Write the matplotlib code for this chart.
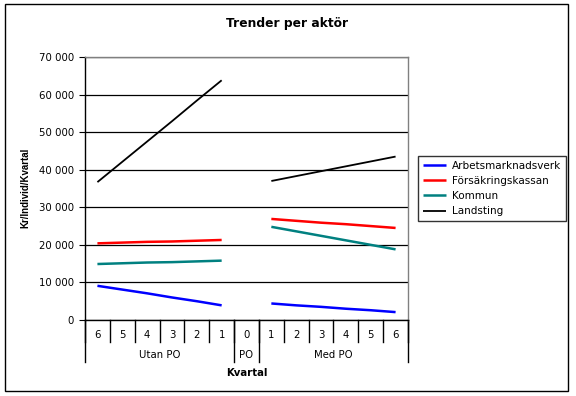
import numpy as np
import matplotlib.pyplot as plt
import matplotlib.transforms as mtransforms
from matplotlib.patches import Rectangle
from matplotlib.ticker import FuncFormatter

plt.rcParams['font.family'] = ['DejaVu Sans']

# Data: quarters before PO (6..1), the PO quarter (0), quarters after PO (1..6)
quarter_labels = ['6', '5', '4', '3', '2', '1', '0', '1', '2', '3', '4', '5', '6']
groups = [('Utan PO', 6), ('PO', 1), ('Med PO', 6)]

series_names = ['Arbetsmarknadsverk', 'Försäkringskassan', 'Kommun', 'Landsting']
series_colors = ['#0000FF', '#FF0000', '#008080', '#000000']

arbetsmarknadsverk_utan = [9100, 8100, 7100, 6000, 5000, 3900]
arbetsmarknadsverk_med = [4400, 3900, 3500, 3000, 2600, 2100]
forsakringskassan_utan = [20400, 20600, 20800, 20900, 21100, 21300]
forsakringskassan_med = [26900, 26400, 25900, 25500, 25000, 24500]
kommun_utan = [14900, 15100, 15300, 15400, 15600, 15800]
kommun_med = [24800, 23600, 22400, 21200, 20000, 18800]
landsting_utan = [36700, 42100, 47500, 52900, 58400, 63800]
landsting_med = [37000, 38300, 39600, 40900, 42200, 43500]

utan = [arbetsmarknadsverk_utan, forsakringskassan_utan, kommun_utan, landsting_utan]
med = [arbetsmarknadsverk_med, forsakringskassan_med, kommun_med, landsting_med]

fig = plt.figure(figsize=(5.76, 3.96), dpi=100)
W, H = 576, 396
ax = fig.add_axes([85 / W, 1 - 320 / H, (408 - 85) / W, (320 - 57) / H])

x = np.arange(len(quarter_labels))
x_utan = x[:6]
x_med = x[7:]
for name, color, yu, ym in zip(series_names, series_colors, utan, med):
    lw = 1.3 if color == '#000000' else 1.8
    ax.plot(x_utan, yu, color=color, lw=lw, label=name, solid_capstyle='butt')
    ax.plot(x_med, ym, color=color, lw=lw, solid_capstyle='butt')

ax.set_xlim(-0.5, len(quarter_labels) - 0.5)
ax.set_ylim(0, 70000)
ax.set_yticks(np.arange(0, 70001, 10000))
ax.yaxis.set_major_formatter(FuncFormatter(lambda v, p: f'{int(v):,}'.replace(',', ' ')))
ax.tick_params(axis='y', length=4, width=0.8, labelsize=7.3, pad=4)
ax.set_xticks([])
ax.grid(axis='y', color='black', lw=0.9)
ax.set_axisbelow(True)
for side in ['top', 'right']:
    ax.spines[side].set_color('#808080')
    ax.spines[side].set_linewidth(1.0)
for side in ['left', 'bottom']:
    ax.spines[side].set_color('black')
    ax.spines[side].set_linewidth(1.0)

# multi-level category axis
axh = 320 - 57
trans = mtransforms.blended_transform_factory(ax.transData, ax.transAxes)
for i, lab in enumerate(quarter_labels):
    ax.text(i, -15 / axh, lab, transform=trans, ha='center', va='center', fontsize=7.3)
for b in np.arange(-0.5, len(quarter_labels), 1.0):
    ax.plot([b, b], [0, -22 / axh], transform=trans, color='black', lw=1.0, clip_on=False)
start = -0.5
for gname, n in groups:
    ax.plot([start, start], [0, -42 / axh], transform=trans, color='black', lw=1.0, clip_on=False)
    ax.text(start + n / 2, -35 / axh, gname, transform=trans, ha='center', va='center', fontsize=7.3)
    start += n
ax.plot([start, start], [0, -42 / axh], transform=trans, color='black', lw=1.0, clip_on=False)
ax.text(0.5, -53 / axh, 'Kvartal', transform=ax.transAxes, ha='center', va='center',
        fontsize=7.3, fontweight='bold')

fig.text(25 / W, 1 - 188 / H, 'Kr/Individ/Kvartal', rotation=90, ha='center', va='center',
         fontsize=7, fontweight='bold', family='Liberation Sans')
fig.text(287 / W, 1 - 23 / H, 'Trender per aktör', ha='center', va='center',
         fontsize=8.8, fontweight='bold')

leg = ax.legend(loc='upper left', bbox_to_anchor=(418 / W, 1 - 156 / H), bbox_transform=fig.transFigure,
                fontsize=7.5, frameon=True, fancybox=False, handlelength=2.2, handletextpad=0.6,
                labelspacing=0.5, borderpad=0.45, borderaxespad=0)
leg.get_frame().set_edgecolor('black')
leg.get_frame().set_linewidth(1.0)

fig.patches.append(Rectangle((5 / W, 1 - 391 / H), 563 / W, 387 / H, transform=fig.transFigure,
                             fill=False, edgecolor='black', lw=1.0))

fig.savefig('out.png', dpi=100)
